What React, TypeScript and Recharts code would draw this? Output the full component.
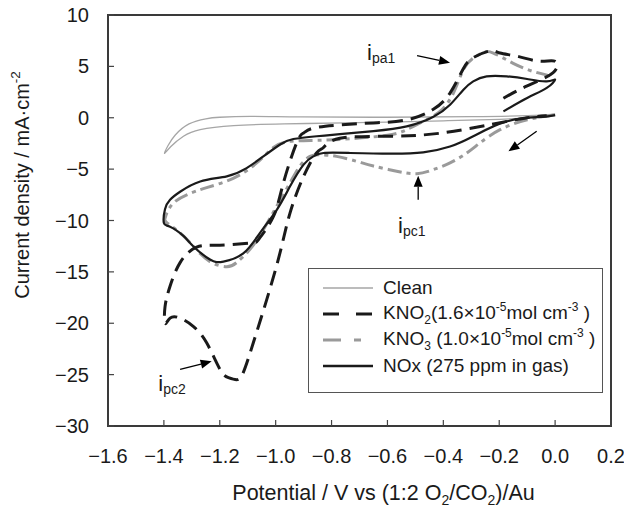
import React from "react"
import { LineChart, Line, XAxis, YAxis, ReferenceArea, ReferenceLine, ReferenceDot, Label } from "recharts"

const potentialTicks = [-1.6, -1.4, -1.2, -1.0, -0.8, -0.6, -0.4, -0.2, 0.0, 0.2]
const currentTicks = [-30, -25, -20, -15, -10, -5, 0, 5, 10]

// [potential V, current density mA cm-2], in the order the trace is drawn
const clean = [
  [0.0, 0.3], [-0.1, 0.0], [-0.2, -0.15], [-0.4, -0.3], [-0.6, -0.42], [-0.75, -0.5],
  [-0.97, -0.6], [-1.15, -0.77], [-1.27, -1.15], [-1.33, -1.8], [-1.375, -2.8], [-1.398, -3.45],
  [-1.385, -2.7], [-1.36, -1.7], [-1.31, -0.6], [-1.25, -0.1], [-1.2, 0.05], [-1.09, 0.14],
  [-0.91, 0.08], [-0.6, 0.05], [-0.3, 0.1], [-0.1, 0.2], [0.0, 0.35],
]

const kno2 = [
  [-0.185, 1.9], [-0.1, 3.1], [-0.007, 4.4], [0.0, 5.5], [-0.054, 5.5], [-0.13, 5.95],
  [-0.197, 6.3], [-0.233, 6.5], [-0.293, 5.85], [-0.33, 4.7], [-0.376, 2.4], [-0.437, 0.8],
  [-0.53, -0.2], [-0.65, -0.5], [-0.77, -0.7], [-0.865, -1.0], [-0.9, -1.48], [-0.925, -2.45],
  [-0.973, -6.4], [-1.008, -9.6], [-1.06, -11.8], [-1.092, -12.2], [-1.2, -12.4], [-1.283, -12.6],
  [-1.342, -14.1], [-1.378, -16.4], [-1.396, -18.4], [-1.396, -20.0], [-1.378, -19.5],
  [-1.342, -19.5], [-1.295, -20.3], [-1.247, -21.9], [-1.199, -24.5], [-1.169, -25.3],
  [-1.14, -25.5], [-1.116, -24.8], [-1.08, -21.9], [-1.032, -17.7], [-0.985, -13.2],
  [-0.949, -9.3], [-0.9, -5.7], [-0.853, -3.4], [-0.829, -2.9], [-0.77, -2.0], [-0.59, -1.8],
  [-0.41, -1.5], [-0.233, -0.67], [-0.1, 0.0], [-0.03, 0.2],
]

const kno3 = [
  [0.0, 0.3], [-0.1, -0.2], [-0.197, -1.16], [-0.269, -2.45], [-0.316, -3.43], [-0.376, -4.4],
  [-0.436, -5.05], [-0.495, -5.44], [-0.567, -5.2], [-0.65, -4.7], [-0.71, -4.24], [-0.782, -3.76],
  [-0.841, -3.6], [-0.877, -3.76], [-0.913, -4.7], [-0.949, -6.35], [-0.996, -8.6], [-1.044, -10.9],
  [-1.092, -12.8], [-1.14, -14.1], [-1.175, -14.5], [-1.235, -14.0], [-1.295, -12.5], [-1.342, -11.2],
  [-1.39, -10.2], [-1.396, -9.8], [-1.39, -9.3], [-1.366, -8.3], [-1.318, -7.5], [-1.247, -6.8],
  [-1.152, -5.9], [-1.068, -4.4], [-1.008, -2.9], [-0.949, -2.3], [-0.853, -2.2], [-0.734, -2.05],
  [-0.6, -1.7], [-0.531, -1.16], [-0.472, -0.35], [-0.412, 0.62], [-0.364, 2.4], [-0.328, 4.7],
  [-0.293, 5.8], [-0.257, 6.36], [-0.221, 6.3], [-0.15, 5.3], [-0.078, 4.5], [-0.006, 4.0],
]

const nox = [
  [-0.185, 0.62], [-0.1, 1.93], [-0.03, 2.9], [0.0, 3.7], [-0.03, 3.54], [-0.1, 3.77],
  [-0.173, 4.03], [-0.245, 4.03], [-0.293, 3.54], [-0.328, 2.73], [-0.376, 1.27], [-0.437, 0.07],
  [-0.531, -0.84], [-0.65, -1.3], [-0.77, -1.6], [-0.853, -1.8], [-0.937, -2.07], [-0.984, -2.6],
  [-1.044, -3.76], [-1.104, -4.9], [-1.175, -5.7], [-1.27, -6.2], [-1.342, -7.2], [-1.378, -7.97],
  [-1.396, -8.9], [-1.4, -10.25], [-1.378, -10.6], [-1.33, -11.5], [-1.295, -12.5], [-1.235, -13.8],
  [-1.187, -14.0], [-1.116, -13.2], [-1.056, -11.2], [-0.996, -8.96], [-0.949, -6.7], [-0.9, -4.56],
  [-0.865, -3.76], [-0.829, -3.43], [-0.734, -3.43], [-0.59, -3.5], [-0.472, -3.37], [-0.376, -2.8],
  [-0.293, -1.8], [-0.173, -0.35], [-0.054, 0.07], [0.0, 0.25],
]

const rows = (pts: number[][]) => pts.map(([v, i]) => ({ v, i }))

const FONT = "'Liberation Sans', Arial, sans-serif"
const INK = "#1a1a1a"
const minus = (s: string) => s.replace("-", "\u2212")

const XTick = ({ x, y, payload }: any) => (
  <g>
    <line x1={x} y1={y} x2={x} y2={y - 6} stroke="#444" strokeWidth={1.2} />
    <text x={x} y={y + 37} textAnchor="middle" fontSize={20} fill={INK} fontFamily={FONT}>
      {minus(Number(payload.value).toFixed(1))}
    </text>
  </g>
)

const YTick = ({ x, y, payload }: any) => (
  <g>
    <line x1={x} y1={y} x2={x + 6} y2={y} stroke="#444" strokeWidth={1.2} />
    <text x={x - 19} y={y + 7} textAnchor="end" fontSize={20} fill={INK} fontFamily={FONT}>
      {minus(String(payload.value))}
    </text>
  </g>
)

const XTitle = ({ viewBox }: any) => (
  <text x={viewBox.x + viewBox.width / 2 + 24} y={viewBox.y + 74} textAnchor="middle"
    fontSize={21.5} fill={INK} fontFamily={FONT}>
    Potential / V vs (1:2 O<tspan fontSize={14} dy={5}>2</tspan>
    <tspan dy={-5}>/CO</tspan><tspan fontSize={14} dy={5}>2</tspan>
    <tspan dy={-5}>)/Au</tspan>
  </text>
)

const YTitle = ({ viewBox }: any) => {
  const cx = viewBox.x + 14
  const cy = viewBox.y + 170
  return (
    <text x={cx} y={cy} transform={`rotate(-90, ${cx}, ${cy})`} textAnchor="middle"
      dominantBaseline="central" fontSize={20} fill={INK} fontFamily={FONT}>
      Current density / mA·cm<tspan fontSize={13.5} dy={-7}>-2</tspan>
    </text>
  )
}

const Arrow = (props: any) => {
  const { x1, y1, x2, y2 } = props
  const a = Math.atan2(y2 - y1, x2 - x1)
  const bx = x2 - 11 * Math.cos(a)
  const by = y2 - 11 * Math.sin(a)
  const px = -Math.sin(a) * 4.5
  const py = Math.cos(a) * 4.5
  return (
    <g>
      <line x1={x1} y1={y1} x2={bx} y2={by} stroke="#000" strokeWidth={1.3} />
      <polygon points={`${x2},${y2} ${bx + px},${by + py} ${bx - px},${by - py}`} fill="#000" />
    </g>
  )
}

const note = (sub: string) => (props: any) => (
  <text x={props.cx} y={props.cy} fontSize={22} fill={INK} fontFamily={FONT}>
    i<tspan fontSize={14} dy={3}>{sub}</tspan>
  </text>
)

const legendRows = [
  { key: "clean", color: "#a6a6a6", width: 1.3, dash: undefined as string | undefined,
    text: <>Clean</> },
  { key: "kno2", color: INK, width: 3.2, dash: "16 17",
    text: <>KNO<sub>2</sub>(1.6×10<sup>-5</sup>mol cm<sup>-3</sup> )</> },
  { key: "kno3", color: "#9a9a9a", width: 3.2, dash: "18 13 7 20",
    text: <>KNO<sub>3</sub> (1.0×10<sup>-5</sup>mol cm<sup>-3</sup> )</> },
  { key: "nox", color: INK, width: 2.4, dash: undefined,
    text: <>NOx (275 ppm in gas)</> },
]

const subStyle = { fontSize: 12, verticalAlign: "baseline", position: "relative" as const }

export default function App() {
  return (
    <div style={{ position: "absolute", left: 0, top: 0, width: 624, height: 508, background: "#fff" }}>
      <LineChart width={624} height={508} margin={{ top: 15, right: 13, bottom: 0, left: 8 }}>
        <XAxis type="number" dataKey="v" domain={[-1.6, 0.2]} ticks={potentialTicks} interval={0}
          allowDataOverflow axisLine={false} tickLine={false} tickSize={0} tickMargin={0}
          tick={<XTick />} height={82}>
          <Label content={<XTitle />} />
        </XAxis>
        <YAxis type="number" dataKey="i" domain={[-30, 10]} ticks={currentTicks} interval={0}
          allowDataOverflow axisLine={false} tickLine={false} tickSize={0} tickMargin={0}
          tick={<YTick />} width={100}>
          <Label content={<YTitle />} />
        </YAxis>
        <ReferenceArea x1={-1.6} x2={0.2} y1={-30} y2={10} fill="none" fillOpacity={0}
          stroke="#3a3a3a" strokeWidth={2} ifOverflow="visible" />
        <Line data={rows(clean)} dataKey="i" type="natural" stroke="#a6a6a6" strokeWidth={1.3}
          dot={false} activeDot={false} isAnimationActive={false} />
        <Line data={rows(kno3)} dataKey="i" type="natural" stroke="#9a9a9a" strokeWidth={3}
          strokeDasharray="14 5 4 5" dot={false} activeDot={false} isAnimationActive={false} />
        <Line data={rows(nox)} dataKey="i" type="natural" stroke={INK} strokeWidth={2.2}
          dot={false} activeDot={false} isAnimationActive={false} />
        <Line data={rows(kno2)} dataKey="i" type="natural" stroke={INK} strokeWidth={3}
          strokeDasharray="15 8" dot={false} activeDot={false} isAnimationActive={false} />
        <ReferenceLine segment={[{ x: -0.494, y: 6.04 }, { x: -0.376, y: 5.36 }]} shape={Arrow} />
        <ReferenceLine segment={[{ x: -0.49, y: -7.97 }, { x: -0.49, y: -5.64 }]} shape={Arrow} />
        <ReferenceLine segment={[{ x: -1.342, y: -24.5 }, { x: -1.229, y: -23.7 }]} shape={Arrow} />
        <ReferenceLine segment={[{ x: -0.066, y: -1.32 }, { x: -0.167, y: -3.27 }]} shape={Arrow} />
        <ReferenceDot x={-0.673} y={5.65} r={0} shape={note("pa1")} />
        <ReferenceDot x={-0.562} y={-11.2} r={0} shape={note("pc1")} />
        <ReferenceDot x={-1.42} y={-26.6} r={0} shape={note("pc2")} />
      </LineChart>
      <div style={{ position: "absolute", left: 308, top: 268, width: 295, height: 125,
        boxSizing: "border-box", border: "1.5px solid #555", background: "#fff",
        fontFamily: FONT, fontSize: 19, color: INK }}>
        {legendRows.map((r, k) => (
          <div key={r.key} style={{ position: "absolute", left: 0, top: 6 + k * 26, height: 26,
            display: "flex", alignItems: "center", whiteSpace: "nowrap" }}>
            <svg width={74} height={26} style={{ flex: "none" }}>
              <line x1={14} y1={13} x2={64} y2={13} stroke={r.color} strokeWidth={r.width}
                strokeDasharray={r.dash} />
            </svg>
            <span style={{ lineHeight: "26px" }}>
              {React.Children.map(r.text.props.children, (c: any) =>
                c && c.type === "sub" ? <span style={{ ...subStyle, top: 5 }}>{c.props.children}</span>
                  : c && c.type === "sup" ? <span style={{ ...subStyle, top: -8 }}>{c.props.children}</span>
                    : c)}
            </span>
          </div>
        ))}
      </div>
    </div>
  )
}
